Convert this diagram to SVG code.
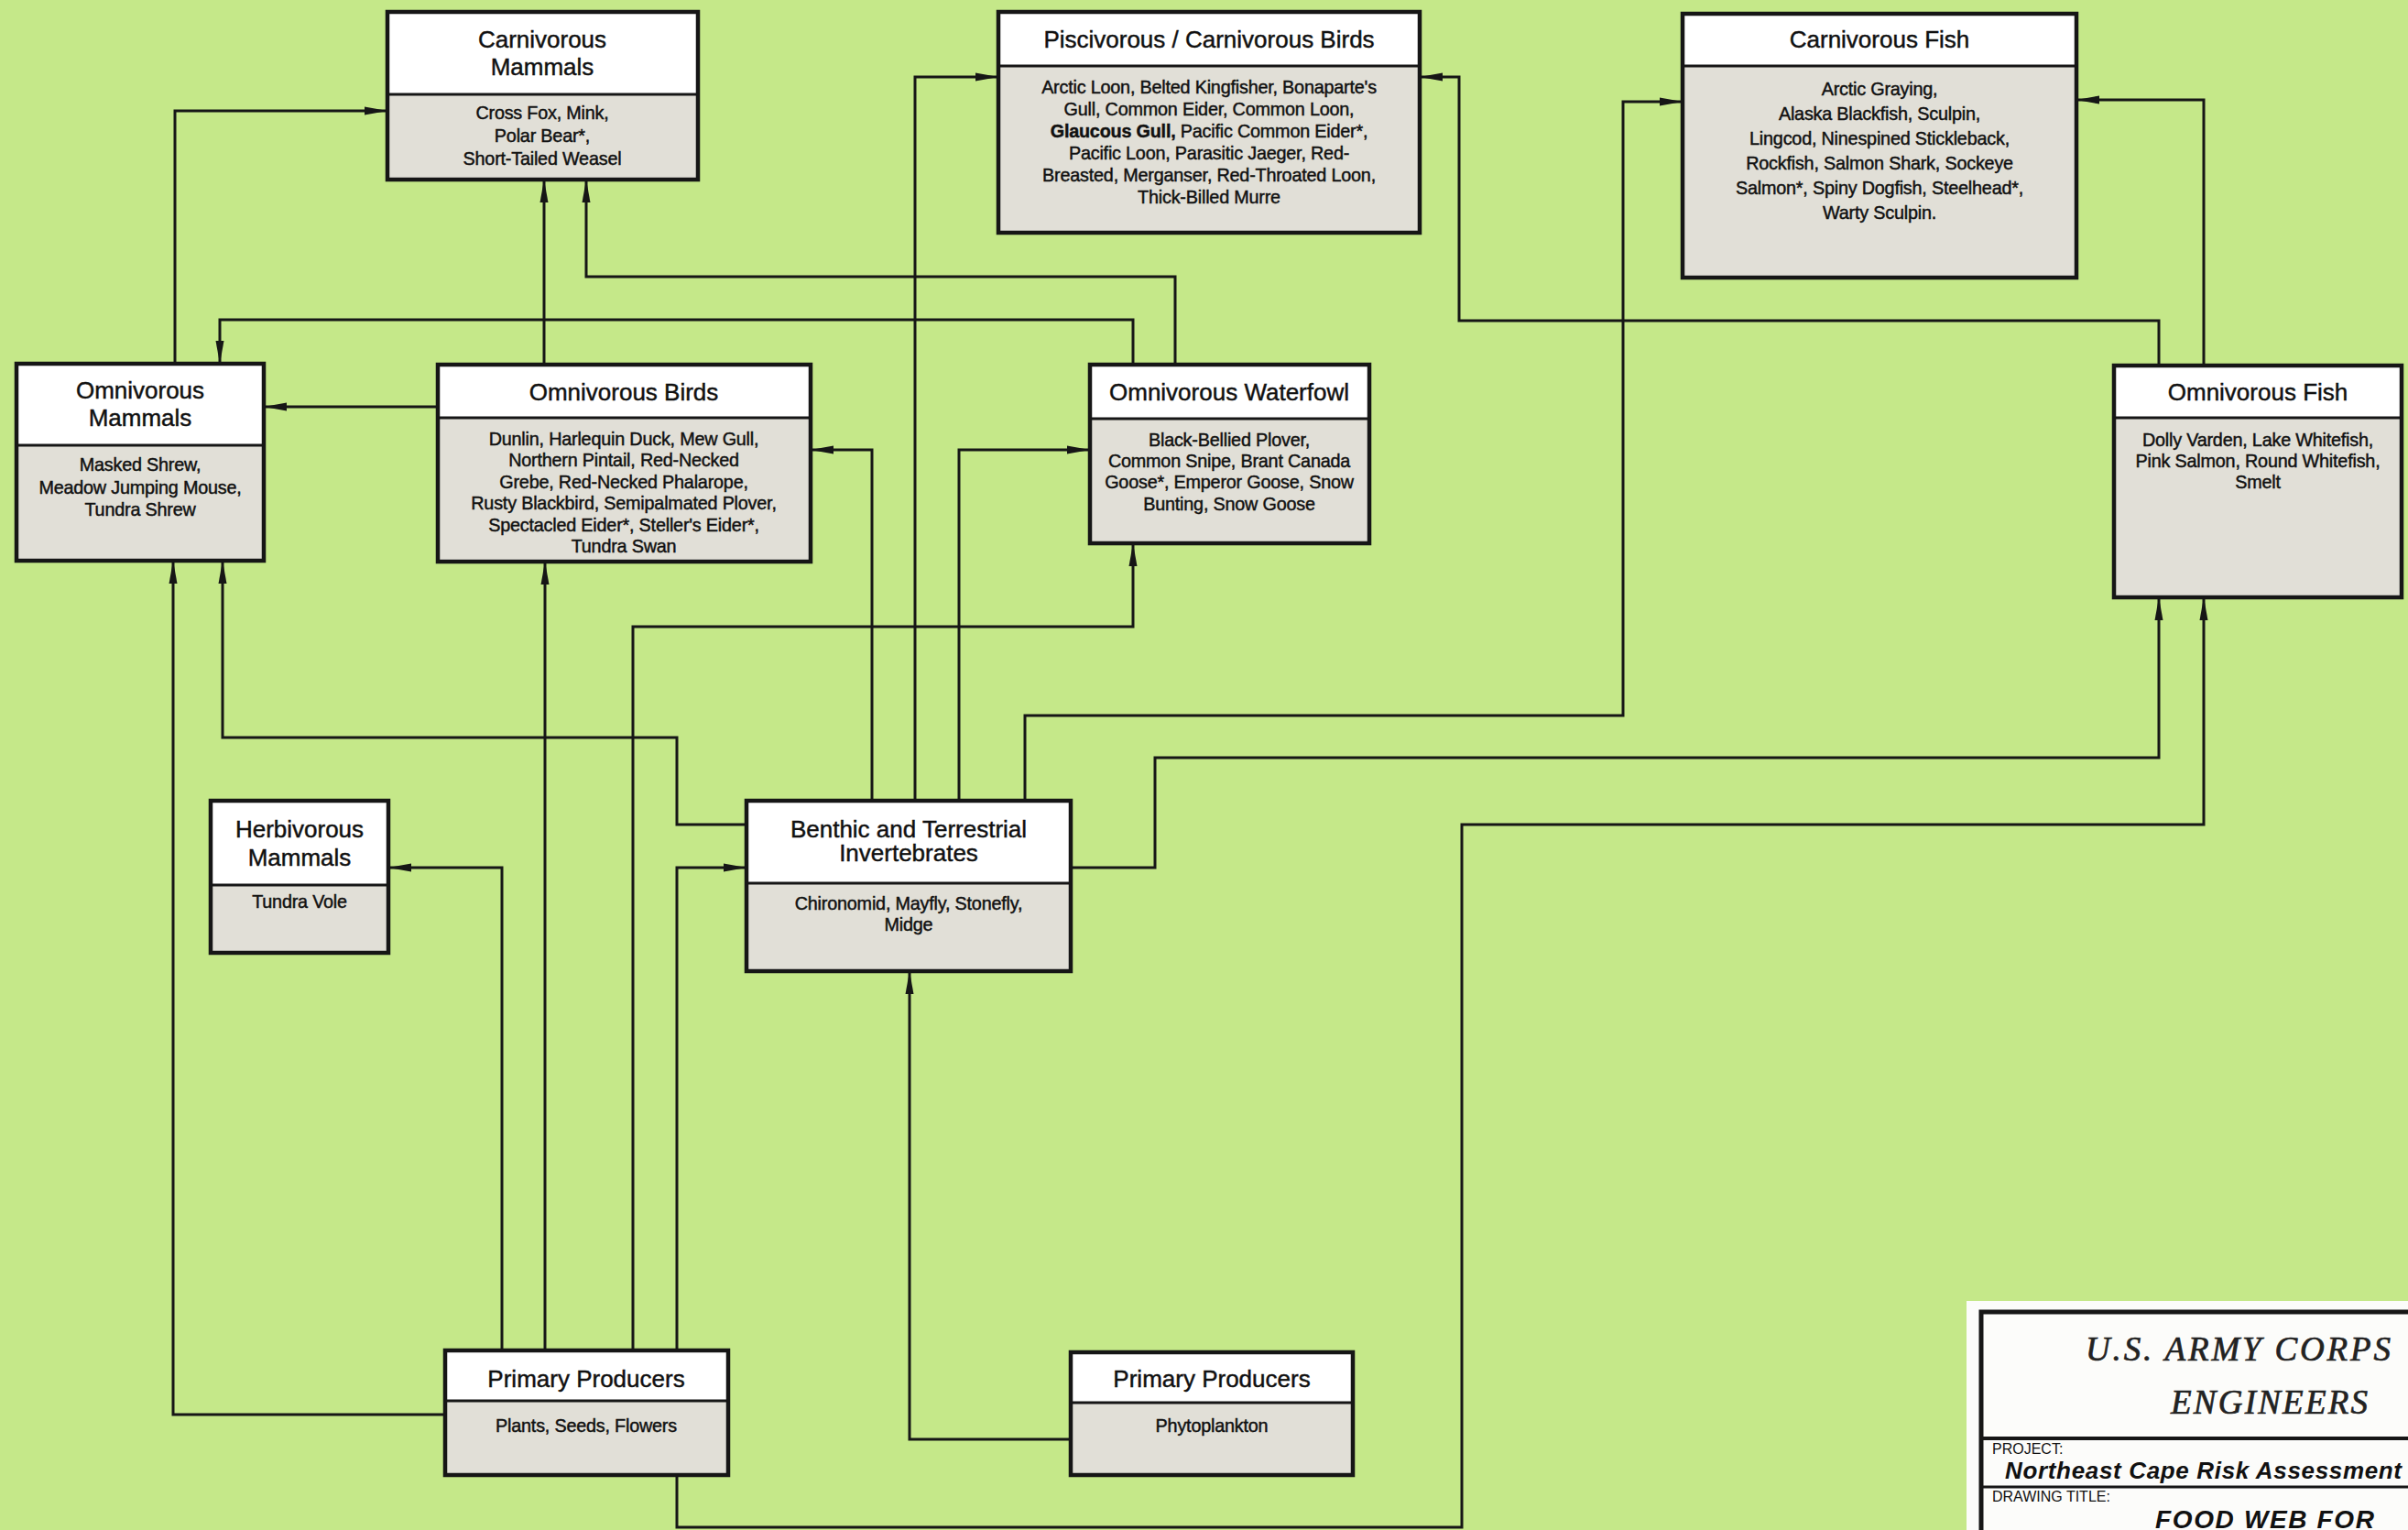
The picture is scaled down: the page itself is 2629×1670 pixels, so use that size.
<svg xmlns="http://www.w3.org/2000/svg" width="2629" height="1670" viewBox="0 0 2629 1670">
<style>
.hd{fill:#ffffff}
.bd{fill:#e1dfd7}
.fr{fill:none;stroke:#161616;stroke-width:4.5}
.dv{stroke:#161616;stroke-width:3}
.h{font-family:"Liberation Sans",Arial,sans-serif;font-size:26px;text-anchor:middle;fill:#111;stroke:#111;stroke-width:0.45}
.b{font-family:"Liberation Sans",Arial,sans-serif;font-size:19.8px;letter-spacing:-0.2px;text-anchor:middle;fill:#111;stroke:#111;stroke-width:0.45}
.c{fill:none;stroke:#161616;stroke-width:3;marker-end:url(#ah)}
.tb{font-family:"Liberation Sans",Arial,sans-serif;fill:#111}
.ts{font-family:"Liberation Serif","Times New Roman",serif;font-style:italic;fill:#222;stroke:#222;stroke-width:0.7}
</style>
<defs>
<marker id="ah" markerUnits="userSpaceOnUse" markerWidth="26" markerHeight="11" refX="25" refY="5.5" orient="auto">
<path d="M0,1 L25,5.5 L0,10 Z" fill="#161616"/>
</marker>
</defs>
<rect x="0" y="0" width="2629" height="1670" fill="#c5e889"/>

<g id="connectors">
<path class="c" d="M191,397 V121 H423"/>
<path class="c" d="M594,398 V196"/>
<path class="c" d="M1283,398 V302 H640 V196"/>
<path class="c" d="M1237,398 V349 H240 V397"/>
<path class="c" d="M478,444 H288"/>
<path class="c" d="M2357,399 V350 H1593 V84 H1550"/>
<path class="c" d="M2406,399 V109 H2267"/>
<path class="c" d="M1119,876 V781 H1772 V111 H1837"/>
<path class="c" d="M999,876 V84 H1090"/>
<path class="c" d="M1047,876 V491 H1190"/>
<path class="c" d="M952,876 V491 H885"/>
<path class="c" d="M815,900 H739 V805 H243 V612"/>
<path class="c" d="M1169,947 H1261 V827 H2357 V652"/>
<path class="c" d="M739,1610 V1667 H1596 V900 H2406 V652"/>
<path class="c" d="M486,1544 H189 V612"/>
<path class="c" d="M548,1474 V947 H424"/>
<path class="c" d="M595,1474 V613"/>
<path class="c" d="M691,1474 V684 H1237 V593"/>
<path class="c" d="M739,1474 V947 H815"/>
<path class="c" d="M1169,1571 H993 V1060"/>
</g>

<g id="carnivorous-mammals">
<rect class="hd" x="423" y="13" width="339" height="90"/>
<rect class="bd" x="423" y="103" width="339" height="93"/>
<line class="dv" x1="423" y1="103" x2="762" y2="103"/>
<rect class="fr" x="423" y="13" width="339" height="183"/>
<text class="h" x="592" y="52">Carnivorous</text>
<text class="h" x="592" y="82">Mammals</text>
<text class="b" x="592" y="130">Cross Fox, Mink,</text>
<text class="b" x="592" y="155">Polar Bear*,</text>
<text class="b" x="592" y="180">Short-Tailed Weasel</text>
</g>

<g id="piscivorous-birds">
<rect class="hd" x="1090" y="13" width="460" height="59"/>
<rect class="bd" x="1090" y="72" width="460" height="182"/>
<line class="dv" x1="1090" y1="72" x2="1550" y2="72"/>
<rect class="fr" x="1090" y="13" width="460" height="241"/>
<text class="h" x="1320" y="52">Piscivorous / Carnivorous Birds</text>
<text class="b" x="1320" y="102">Arctic Loon, Belted Kingfisher, Bonaparte's</text>
<text class="b" x="1320" y="126">Gull, Common Eider, Common Loon,</text>
<text class="b" x="1320" y="150"><tspan font-weight="bold">Glaucous Gull,</tspan> Pacific Common Eider*,</text>
<text class="b" x="1320" y="174">Pacific Loon, Parasitic Jaeger, Red-</text>
<text class="b" x="1320" y="198">Breasted, Merganser, Red-Throated Loon,</text>
<text class="b" x="1320" y="222">Thick-Billed Murre</text>
</g>

<g id="carnivorous-fish">
<rect class="hd" x="1837" y="15" width="430" height="57"/>
<rect class="bd" x="1837" y="72" width="430" height="231"/>
<line class="dv" x1="1837" y1="72" x2="2267" y2="72"/>
<rect class="fr" x="1837" y="15" width="430" height="288"/>
<text class="h" x="2052" y="52">Carnivorous Fish</text>
<text class="b" x="2052" y="104">Arctic Graying,</text>
<text class="b" x="2052" y="131">Alaska Blackfish, Sculpin,</text>
<text class="b" x="2052" y="158">Lingcod, Ninespined Stickleback,</text>
<text class="b" x="2052" y="185">Rockfish, Salmon Shark, Sockeye</text>
<text class="b" x="2052" y="212">Salmon*, Spiny Dogfish, Steelhead*,</text>
<text class="b" x="2052" y="239">Warty Sculpin.</text>
</g>

<g id="omnivorous-mammals">
<rect class="hd" x="18" y="397" width="270" height="89"/>
<rect class="bd" x="18" y="486" width="270" height="126"/>
<line class="dv" x1="18" y1="486" x2="288" y2="486"/>
<rect class="fr" x="18" y="397" width="270" height="215"/>
<text class="h" x="153" y="435">Omnivorous</text>
<text class="h" x="153" y="465">Mammals</text>
<text class="b" x="153" y="514">Masked Shrew,</text>
<text class="b" x="153" y="539">Meadow Jumping Mouse,</text>
<text class="b" x="153" y="563">Tundra Shrew</text>
</g>

<g id="omnivorous-birds">
<rect class="hd" x="478" y="398" width="407" height="58"/>
<rect class="bd" x="478" y="456" width="407" height="157"/>
<line class="dv" x1="478" y1="456" x2="885" y2="456"/>
<rect class="fr" x="478" y="398" width="407" height="215"/>
<text class="h" x="681" y="437">Omnivorous Birds</text>
<text class="b" x="681" y="486">Dunlin, Harlequin Duck, Mew Gull,</text>
<text class="b" x="681" y="509">Northern Pintail,  Red-Necked</text>
<text class="b" x="681" y="533">Grebe, Red-Necked Phalarope,</text>
<text class="b" x="681" y="556">Rusty Blackbird, Semipalmated Plover,</text>
<text class="b" x="681" y="580">Spectacled Eider*, Steller's Eider*,</text>
<text class="b" x="681" y="603">Tundra Swan</text>
</g>

<g id="omnivorous-waterfowl">
<rect class="hd" x="1190" y="398" width="305" height="59"/>
<rect class="bd" x="1190" y="457" width="305" height="136"/>
<line class="dv" x1="1190" y1="457" x2="1495" y2="457"/>
<rect class="fr" x="1190" y="398" width="305" height="195"/>
<text class="h" x="1342" y="437">Omnivorous Waterfowl</text>
<text class="b" x="1342" y="487">Black-Bellied Plover,</text>
<text class="b" x="1342" y="510">Common Snipe, Brant Canada</text>
<text class="b" x="1342" y="533">Goose*, Emperor Goose, Snow</text>
<text class="b" x="1342" y="557">Bunting, Snow Goose</text>
</g>

<g id="omnivorous-fish">
<rect class="hd" x="2308" y="399" width="314" height="57"/>
<rect class="bd" x="2308" y="456" width="314" height="196"/>
<line class="dv" x1="2308" y1="456" x2="2622" y2="456"/>
<rect class="fr" x="2308" y="399" width="314" height="253"/>
<text class="h" x="2465" y="437">Omnivorous Fish</text>
<text class="b" x="2465" y="487">Dolly Varden, Lake Whitefish,</text>
<text class="b" x="2465" y="510">Pink Salmon, Round Whitefish,</text>
<text class="b" x="2465" y="533">Smelt</text>
</g>

<g id="herbivorous-mammals">
<rect class="hd" x="230" y="874" width="194" height="92"/>
<rect class="bd" x="230" y="966" width="194" height="74"/>
<line class="dv" x1="230" y1="966" x2="424" y2="966"/>
<rect class="fr" x="230" y="874" width="194" height="166"/>
<text class="h" x="327" y="914">Herbivorous</text>
<text class="h" x="327" y="945">Mammals</text>
<text class="b" x="327" y="991">Tundra Vole</text>
</g>

<g id="benthic-invertebrates">
<rect class="hd" x="815" y="874" width="354" height="90"/>
<rect class="bd" x="815" y="964" width="354" height="96"/>
<line class="dv" x1="815" y1="964" x2="1169" y2="964"/>
<rect class="fr" x="815" y="874" width="354" height="186"/>
<text class="h" x="992" y="914">Benthic and Terrestrial</text>
<text class="h" x="992" y="940">Invertebrates</text>
<text class="b" x="992" y="993">Chironomid, Mayfly, Stonefly,</text>
<text class="b" x="992" y="1016">Midge</text>
</g>

<g id="primary-producers-plants">
<rect class="hd" x="486" y="1474" width="309" height="55"/>
<rect class="bd" x="486" y="1529" width="309" height="81"/>
<line class="dv" x1="486" y1="1529" x2="795" y2="1529"/>
<rect class="fr" x="486" y="1474" width="309" height="136"/>
<text class="h" x="640" y="1514">Primary Producers</text>
<text class="b" x="640" y="1563">Plants, Seeds, Flowers</text>
</g>

<g id="primary-producers-phytoplankton">
<rect class="hd" x="1169" y="1476" width="308" height="55"/>
<rect class="bd" x="1169" y="1531" width="308" height="79"/>
<line class="dv" x1="1169" y1="1531" x2="1477" y2="1531"/>
<rect class="fr" x="1169" y="1476" width="308" height="134"/>
<text class="h" x="1323" y="1514">Primary Producers</text>
<text class="b" x="1323" y="1563">Phytoplankton</text>
</g>

<g id="title-block">
<rect x="2147" y="1420" width="500" height="270" fill="#fcfcfa"/>
<rect x="2163" y="1432" width="500" height="260" fill="none" stroke="#161616" stroke-width="5"/>
<line x1="2163" y1="1570" x2="2629" y2="1570" stroke="#161616" stroke-width="4"/>
<line x1="2163" y1="1623" x2="2629" y2="1623" stroke="#161616" stroke-width="3"/>
<text class="ts" x="2277" y="1485" font-size="37" textLength="333" lengthAdjust="spacing">U.S. ARMY CORPS</text>
<text class="ts" x="2370" y="1543" font-size="37" textLength="215" lengthAdjust="spacing">ENGINEERS</text>
<text class="tb" x="2175" y="1587" font-size="16">PROJECT:</text>
<text class="tb" x="2189" y="1614" font-size="26" font-weight="bold" font-style="italic" textLength="433" lengthAdjust="spacing">Northeast Cape Risk Assessment</text>
<text class="tb" x="2175" y="1639" font-size="16">DRAWING TITLE:</text>
<text class="tb" x="2353" y="1668" font-size="28" font-weight="bold" font-style="italic" textLength="239" lengthAdjust="spacing">FOOD WEB FOR</text>
</g>
</svg>
